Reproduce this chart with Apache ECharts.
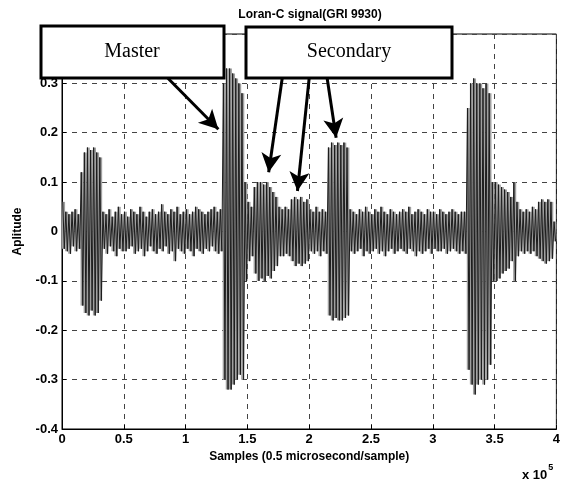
<!DOCTYPE html>
<html>
<head>
<meta charset="utf-8">
<script src="https://cdn.jsdelivr.net/npm/echarts@6/dist/echarts.min.js"></script>
<style>
  html, body { margin: 0; background: #fff; }
  #chart { width: 563px; height: 479px; }
</style>
</head>
<body>
<div id="chart"></div>
<script>
// bin width in samples, one peak up and one peak down per bin
const binSize = 2500;

const peakHi = [
  .06, .04, .035, .04, .045, .035, .12, .16, .17, .165,
  .17, .16, .15, .04, .035, .045, .03, .04, .05, .035,
  .04, .03, .045, .04, .035, .05, .04, .03, .04, .045,
  .035, .04, .055, .04, .035, .045, .04, .05, .035, .04,
  .045, .035, .04, .05, .045, .04, .035, .04, .045, .05,
  .04, .045, .3, .33, .33, .32, .31, .3, .28, .1,
  .06, .05, .09, .1, .1, .095, .1, .09, .08, .07,
  .05, .045, .05, .045, .065, .07, .065, .07, .06, .065,
  .045, .04, .05, .04, .045, .04, .17, .18, .175, .18,
  .175, .18, .17, .045, .04, .035, .045, .04, .05, .04,
  .035, .045, .04, .05, .04, .035, .045, .04, .035, .04,
  .045, .04, .05, .035, .04, .045, .04, .035, .045, .04,
  .04, .035, .045, .04, .035, .04, .045, .04, .035, .04,
  .04, .25, .3, .31, .3, .3, .29, .3, .28, .1,
  .1, .095, .09, .085, .08, .07, .1, .06, .045, .04,
  .045, .04, .05, .045, .06, .065, .06, .065, .06, .02
];

const peakLo = [
  -.035, -.04, -.045, -.03, -.04, -.035, -.15, -.165, -.17, -.16,
  -.17, -.165, -.14, -.035, -.045, -.03, -.04, -.05, -.035, -.04,
  -.04, -.035, -.03, -.045, -.04, -.035, -.05, -.04, -.03, -.04,
  -.045, -.035, -.04, -.03, -.045, -.04, -.06, -.035, -.04, -.045,
  -.035, -.04, -.05, -.035, -.04, -.045, -.035, -.04, -.03, -.04,
  -.045, -.04, -.3, -.32, -.32, -.31, -.3, -.29, -.3, -.1,
  -.06, -.05, -.085, -.1, -.095, -.1, -.09, -.095, -.08, -.07,
  -.05, -.05, -.045, -.05, -.06, -.07, -.065, -.07, -.065, -.06,
  -.04, -.045, -.04, -.05, -.04, -.045, -.17, -.18, -.175, -.18,
  -.18, -.175, -.17, -.04, -.045, -.04, -.035, -.05, -.04, -.045,
  -.04, -.035, -.045, -.04, -.05, -.04, -.035, -.045, -.04, -.035,
  -.04, -.045, -.035, -.04, -.05, -.04, -.045, -.04, -.035, -.045,
  -.035, -.04, -.04, -.035, -.045, -.04, -.035, -.04, -.045, -.04,
  -.045, -.28, -.31, -.33, -.31, -.3, -.31, -.3, -.27, -.1,
  -.1, -.095, -.085, -.08, -.075, -.06, -.1, -.05, -.04, -.045,
  -.04, -.045, -.04, -.05, -.055, -.06, -.065, -.06, -.055, -.02
];

// annotation arrows in data space: [fromX, fromY, toX, toY]
const arrows = [
  [85500, 0.311, 126500, 0.207],
  [178200, 0.311, 167200, 0.12],
  [200000, 0.311, 190500, 0.082],
  [214500, 0.311, 221800, 0.19]
];

const xTicks = { min: 0, max: 400000, step: 50000 };
const yTicks = { min: -0.4, max: 0.4, step: 0.1 };

const signal = [];
const envelope = [];
peakHi.forEach((hi, i) => {
  signal.push([i * binSize + 600, hi]);
  signal.push([i * binSize + 1850, peakLo[i]]);
  envelope.push([i * binSize, peakLo[i], hi, (i + 1) * binSize]);
});

const chart = echarts.init(document.getElementById('chart'));

const labelFont = {
  color: '#000',
  fontFamily: 'Liberation Sans, Arial, sans-serif',
  fontWeight: 'bold',
  fontSize: 13
};
const gridLine = { color: '#444', type: [5, 5], width: 1 };

const option = {
  animation: false,
  backgroundColor: '#fff',
  grid: {
    left: 62, right: 5, top: 34, bottom: 50,
    show: true, borderColor: '#000', borderWidth: 1
  },
  xAxis: {
    type: 'value',
    min: xTicks.min, max: xTicks.max, interval: xTicks.step,
    name: 'Samples (0.5 microsecond/sample)',
    nameLocation: 'middle',
    nameGap: 21,
    nameTextStyle: { ...labelFont, fontSize: 12 },
    axisLine: { onZero: false, lineStyle: { color: '#000' } },
    axisTick: { inside: true, length: 4, lineStyle: { color: '#000' } },
    axisLabel: { ...labelFont, margin: 4, formatter: v => String(v / 1e5) },
    splitLine: { show: true, lineStyle: gridLine }
  },
  yAxis: {
    type: 'value',
    min: yTicks.min, max: yTicks.max, interval: yTicks.step,
    name: 'Aplitude',
    nameLocation: 'middle',
    nameGap: 38,
    nameTextStyle: { ...labelFont, fontSize: 12 },
    axisLine: { onZero: false, lineStyle: { color: '#000' } },
    axisTick: { inside: true, length: 4, lineStyle: { color: '#000' } },
    axisLabel: { ...labelFont, margin: 4, formatter: v => String(Math.round(v * 10) / 10) },
    splitLine: { show: true, lineStyle: gridLine }
  },
  series: [
    {
      // light fill between the peaks, as the scanned trace looks solid
      type: 'custom',
      silent: true,
      data: envelope,
      renderItem: (params, api) => {
        const p0 = api.coord([api.value(0), api.value(2)]);
        const p1 = api.coord([api.value(3), api.value(1)]);
        return {
          type: 'rect',
          shape: { x: p0[0], y: p0[1], width: p1[0] - p0[0], height: p1[1] - p0[1] },
          style: { fill: '#a0a0a0' }
        };
      }
    },
    {
      type: 'line',
      data: signal,
      showSymbol: false,
      sampling: false,
      silent: true,
      lineStyle: { color: '#1c1c1c', width: 1 },
      markLine: {
        silent: true,
        symbol: ['none', 'arrow'],
        symbolSize: [15, 19],
        label: { show: false },
        lineStyle: { color: '#000', width: 3, type: 'solid' },
        data: arrows.map(a => [{ coord: [a[0], a[1]] }, { coord: [a[2], a[3]] }])
      }
    }
  ],
  graphic: [
    {
      type: 'text', x: 310, y: 9, z: 10,
      style: {
        text: 'Loran-C signal(GRI 9930)', textAlign: 'center',
        fill: '#000', font: 'bold 12px "Liberation Sans", Arial, sans-serif'
      }
    },
    {
      type: 'rect', z: 10,
      shape: { x: 41, y: 26, width: 183, height: 52 },
      style: { fill: '#fff', stroke: '#000', lineWidth: 3 }
    },
    {
      type: 'text', x: 132, y: 52, z: 11,
      style: {
        text: 'Master', textAlign: 'center', textVerticalAlign: 'middle',
        fill: '#000', font: '20px "Liberation Serif", "Times New Roman", serif'
      }
    },
    {
      type: 'rect', z: 10,
      shape: { x: 246, y: 27, width: 206, height: 51 },
      style: { fill: '#fff', stroke: '#000', lineWidth: 3 }
    },
    {
      type: 'text', x: 349, y: 52, z: 11,
      style: {
        text: 'Secondary', textAlign: 'center', textVerticalAlign: 'middle',
        fill: '#000', font: '20px "Liberation Serif", "Times New Roman", serif'
      }
    },
    {
      type: 'text', x: 522, y: 459, z: 10,
      style: {
        text: '{a|x 10}{b|5}',
        rich: {
          a: { fontSize: 13, fontWeight: 'bold', fontFamily: 'Liberation Sans', padding: [10, 0, 0, 0] },
          b: { fontSize: 9, fontWeight: 'bold', fontFamily: 'Liberation Sans', padding: [0, 0, 6, 1] }
        }
      }
    }
  ]
};

chart.setOption(option);
</script>
</body>
</html>
